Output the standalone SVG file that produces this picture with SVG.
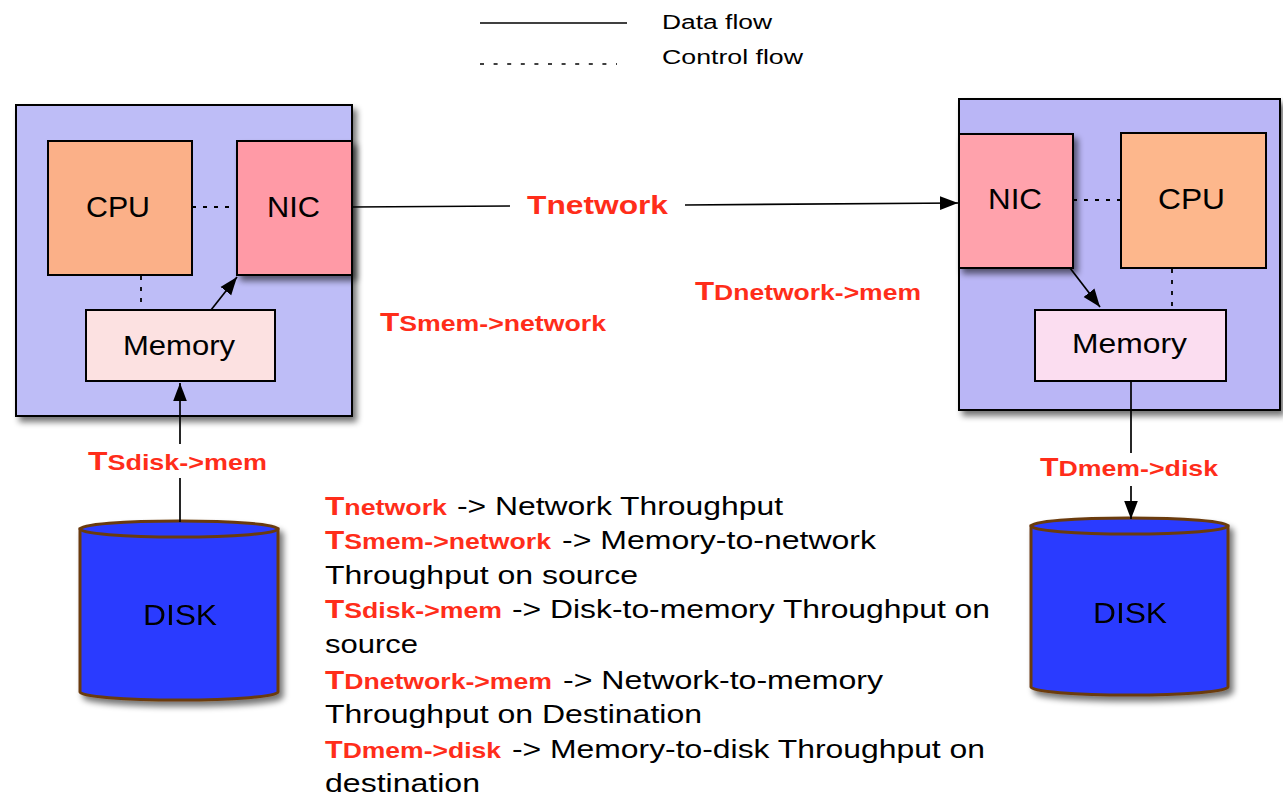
<svg xmlns="http://www.w3.org/2000/svg" width="1283" height="796" viewBox="0 0 1283 796">
  <style>
    .lbl { font-family: "Liberation Sans", Arial, sans-serif; fill: #000; }
    .red { font-family: "Liberation Sans", Arial, sans-serif; font-weight: bold; fill: #FF2D1A; }
    .box { stroke: #000; stroke-width: 2; }
    .flow { stroke: #000; stroke-width: 1.7; fill: none; }
    .ctrl { stroke: #000; stroke-width: 1.8; fill: none; stroke-dasharray: 4 7; }
    .disk { fill: #2A3BFF; stroke: #6B3B0E; stroke-width: 3; }
  </style>
  <defs>
    <filter id="shadow" x="-10%" y="-10%" width="130%" height="130%">
      <feGaussianBlur in="SourceAlpha" stdDeviation="3"/>
      <feOffset dx="4" dy="5" result="b"/>
      <feComponentTransfer><feFuncA type="linear" slope="0.55"/></feComponentTransfer>
      <feMerge><feMergeNode/><feMergeNode in="SourceGraphic"/></feMerge>
    </filter>
    <marker id="arrowL" viewBox="0 0 10 10" refX="10" refY="5" markerWidth="18" markerHeight="18" markerUnits="userSpaceOnUse" orient="auto">
      <path d="M0,1.2 L10,5 L0,8.8 Z" fill="#000"/>
    </marker>
  </defs>

  <rect width="1283" height="796" fill="#fff"/>

  <!-- legend -->
  <g id="legend">
    <line x1="480" y1="23" x2="627" y2="23" class="flow"/>
    <line x1="480" y1="64" x2="617" y2="64" stroke="#000" stroke-width="1.6" stroke-dasharray="4 9.6"/>
    <text class="lbl" x="662" y="29" font-size="20" textLength="110" lengthAdjust="spacingAndGlyphs">Data flow</text>
    <text class="lbl" x="662" y="64" font-size="20" textLength="141" lengthAdjust="spacingAndGlyphs">Control flow</text>
  </g>

  <!-- source host -->
  <g id="source-host">
    <rect x="16" y="105" width="336" height="311" fill="#BEBDF7" class="box" filter="url(#shadow)"/>
  </g>
  <g id="source-cpu">
    <rect x="48" y="141" width="144" height="134" fill="#FBB088" class="box"/>
    <text class="lbl" x="86" y="217" font-size="29" textLength="64" lengthAdjust="spacingAndGlyphs">CPU</text>
  </g>
  <g id="source-nic">
    <rect x="237" y="141" width="115" height="134" fill="#FF9AA6" class="box" filter="url(#shadow)"/>
    <text class="lbl" x="267" y="217" font-size="29" textLength="53" lengthAdjust="spacingAndGlyphs">NIC</text>
  </g>
  <g id="source-memory">
    <rect x="86" y="310" width="189" height="71" fill="#FCE1E1" class="box"/>
    <text class="lbl" x="123" y="355" font-size="28" textLength="112" lengthAdjust="spacingAndGlyphs">Memory</text>
  </g>
  <g id="source-disk" filter="url(#shadow)">
    <path class="disk" d="M80,529 L80,692 A99,8 0 0 0 278,692 L278,529 Z"/>
    <ellipse class="disk" cx="179" cy="529" rx="99" ry="8" stroke-width="4"/>
    <text class="lbl" x="143" y="625" font-size="30" textLength="74" lengthAdjust="spacingAndGlyphs">DISK</text>
  </g>

  <!-- destination host -->
  <g id="dest-host">
    <rect x="959" y="99" width="321" height="311" fill="#BAB6F6" class="box" filter="url(#shadow)"/>
  </g>
  <g id="dest-nic">
    <rect x="959" y="134" width="114" height="134" fill="#FFA2AC" class="box" filter="url(#shadow)"/>
    <text class="lbl" x="988" y="209" font-size="29" textLength="54" lengthAdjust="spacingAndGlyphs">NIC</text>
  </g>
  <g id="dest-cpu">
    <rect x="1121" y="133" width="145" height="135" fill="#FDB78C" class="box"/>
    <text class="lbl" x="1158" y="209" font-size="29" textLength="67" lengthAdjust="spacingAndGlyphs">CPU</text>
  </g>
  <g id="dest-memory">
    <rect x="1035" y="310" width="191" height="71" fill="#FBDDF0" class="box"/>
    <text class="lbl" x="1072" y="353" font-size="28" textLength="115" lengthAdjust="spacingAndGlyphs">Memory</text>
  </g>
  <g id="dest-disk" filter="url(#shadow)">
    <path class="disk" d="M1031,526 L1031,687 A98.5,8 0 0 0 1228,687 L1228,526 Z"/>
    <ellipse class="disk" cx="1129.5" cy="526" rx="98.5" ry="8" stroke-width="4"/>
    <text class="lbl" x="1093" y="623" font-size="30" textLength="74" lengthAdjust="spacingAndGlyphs">DISK</text>
  </g>

  <!-- connectors -->
  <g id="connectors">
    <!-- control flow -->
    <line x1="192" y1="207" x2="237" y2="207" class="ctrl"/>
    <line x1="141" y1="276" x2="141" y2="310" class="ctrl"/>
    <line x1="1073" y1="200" x2="1121" y2="200" class="ctrl"/>
    <line x1="1172" y1="269" x2="1172" y2="310" class="ctrl"/>
    <!-- data flow -->
    <line x1="211" y1="310" x2="237" y2="277" class="flow" marker-end="url(#arrowL)"/>
    <line x1="180" y1="522" x2="180" y2="478" class="flow"/>
    <line x1="180" y1="444" x2="180" y2="383" class="flow" marker-end="url(#arrowL)"/>
    <line x1="352" y1="207" x2="510" y2="206" class="flow"/>
    <line x1="685" y1="205" x2="958" y2="203" class="flow" marker-end="url(#arrowL)"/>
    <line x1="1070" y1="268" x2="1100" y2="307" class="flow" marker-end="url(#arrowL)"/>
    <line x1="1131" y1="381" x2="1131" y2="453" class="flow"/>
    <line x1="1131" y1="486" x2="1131" y2="519" class="flow" marker-end="url(#arrowL)"/>
  </g>

  <!-- throughput labels on the diagram -->
  <g id="flow-labels">
    <text class="red" x="527" y="214" font-size="26" textLength="141" lengthAdjust="spacingAndGlyphs">Tnetwork</text>
    <text class="red" x="380" y="331" font-size="22" textLength="226" lengthAdjust="spacingAndGlyphs"><tspan font-size="26">T</tspan>Smem-&gt;network</text>
    <text class="red" x="695" y="300" font-size="22" textLength="226" lengthAdjust="spacingAndGlyphs"><tspan font-size="26">T</tspan>Dnetwork-&gt;mem</text>
    <text class="red" x="88" y="470" font-size="22" textLength="179" lengthAdjust="spacingAndGlyphs"><tspan font-size="26">T</tspan>Sdisk-&gt;mem</text>
    <text class="red" x="1040" y="476" font-size="22" textLength="178" lengthAdjust="spacingAndGlyphs"><tspan font-size="25">T</tspan>Dmem-&gt;disk</text>
  </g>

  <!-- key to the throughput symbols -->
  <g id="key">
    <text class="red" x="325" y="515" font-size="22" textLength="122" lengthAdjust="spacingAndGlyphs"><tspan font-size="26">T</tspan>network</text>
    <text class="lbl" x="457" y="515" font-size="26" textLength="326" lengthAdjust="spacingAndGlyphs">-&gt; Network Throughput</text>

    <text class="red" x="325" y="549" font-size="22" textLength="226" lengthAdjust="spacingAndGlyphs"><tspan font-size="26">T</tspan>Smem-&gt;network</text>
    <text class="lbl" x="562" y="549" font-size="26" textLength="314" lengthAdjust="spacingAndGlyphs">-&gt; Memory-to-network</text>
    <text class="lbl" x="325" y="584" font-size="26" textLength="313" lengthAdjust="spacingAndGlyphs">Throughput on source</text>

    <text class="red" x="325" y="618" font-size="22" textLength="177" lengthAdjust="spacingAndGlyphs"><tspan font-size="26">T</tspan>Sdisk-&gt;mem</text>
    <text class="lbl" x="512" y="618" font-size="26" textLength="478" lengthAdjust="spacingAndGlyphs">-&gt; Disk-to-memory Throughput on</text>
    <text class="lbl" x="325" y="653" font-size="26" textLength="93" lengthAdjust="spacingAndGlyphs">source</text>

    <text class="red" x="325" y="689" font-size="22" textLength="227" lengthAdjust="spacingAndGlyphs"><tspan font-size="26">T</tspan>Dnetwork-&gt;mem</text>
    <text class="lbl" x="563" y="689" font-size="26" textLength="320" lengthAdjust="spacingAndGlyphs">-&gt; Network-to-memory</text>
    <text class="lbl" x="325" y="723" font-size="26" textLength="377" lengthAdjust="spacingAndGlyphs">Throughput on Destination</text>

    <text class="red" x="325" y="758" font-size="22" textLength="176" lengthAdjust="spacingAndGlyphs"><tspan font-size="24">T</tspan>Dmem-&gt;disk</text>
    <text class="lbl" x="512" y="758" font-size="26" textLength="473" lengthAdjust="spacingAndGlyphs">-&gt; Memory-to-disk Throughput on</text>
    <text class="lbl" x="325" y="792" font-size="26" textLength="155" lengthAdjust="spacingAndGlyphs">destination</text>
  </g>
</svg>
